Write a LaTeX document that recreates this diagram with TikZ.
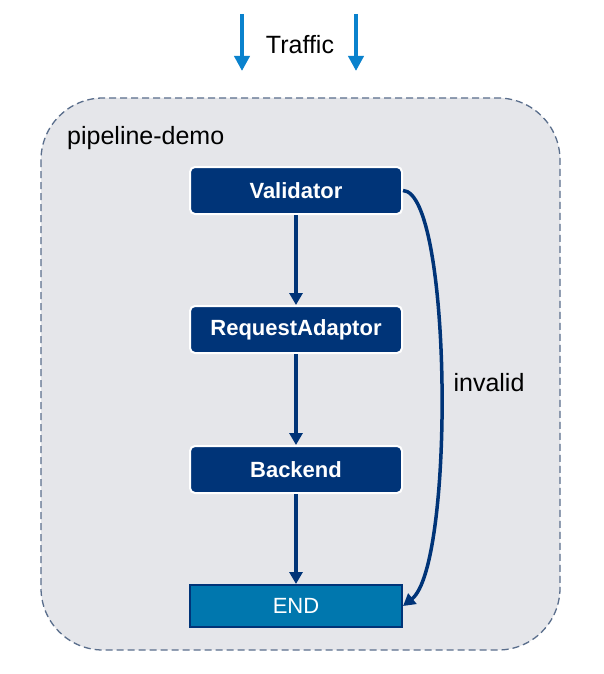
\documentclass[tikz,border=0pt]{standalone}
\usepackage{fontspec}
\setmainfont{Liberation Sans}
\usetikzlibrary{arrows.meta}
\definecolor{navy}{RGB}{0,52,120}
\definecolor{endblue}{RGB}{0,119,174}
\definecolor{traffic}{RGB}{10,130,205}
\definecolor{boxbg}{RGB}{229,230,234}
\definecolor{boxline}{RGB}{90,110,140}
\tikzset{
  stagebox/.style={draw=white, line width=2pt, fill=navy, rounded corners=5pt,
    minimum width=212pt, minimum height=47pt, inner sep=0pt,
    text=white, font=\fontsize{22}{26}\selectfont\bfseries},
  endbox/.style={draw=navy, line width=2pt, fill=endblue,
    minimum width=212pt, minimum height=42pt, inner sep=0pt,
    text=white, font=\fontsize{22}{26}\selectfont},
  flow/.style={draw=navy, line width=3.5pt, -{Triangle[width=13pt,length=12pt]}},
  trafficarrow/.style={draw=traffic, line width=4pt, -{Triangle[width=15pt,length=15pt]}},
  lbl/.style={font=\fontsize{25}{30}\selectfont, text=black, inner sep=0pt}
}
\begin{document}
\begin{tikzpicture}[x=1pt,y=-1pt]
\useasboundingbox (0,0) rectangle (604,674);
\fill[white] (0,0) rectangle (604,674);
\draw[boxline, fill=boxbg, line width=1.3pt, dash pattern=on 7pt off 4pt, rounded corners=62pt] (41,98) rectangle (560,650);
\node[lbl, anchor=west] (title) at (67,138) {pipeline-demo};
\coordinate (t1s) at (242,14);
\coordinate (t1e) at (242,71);
\coordinate (t2s) at (356,14);
\coordinate (t2e) at (356,71);
\draw[trafficarrow] (t1s) -- (t1e);
\draw[trafficarrow] (t2s) -- (t2e);
\node[lbl] (traffic) at (300,45) {Traffic};
\node[stagebox] (va) at (296,190.5) {Validator};
\node[stagebox] (ra) at (296,329.5) {RequestAdaptor};
\node[stagebox] (be) at (296,469.5) {Backend};
\node[endbox] (end) at (296,606) {END};
\draw[flow] (va.south) -- (ra.north);
\draw[flow] (ra.south) -- (be.north);
\draw[flow] (be.south) -- (end.north);
\draw[flow] (va.east) .. controls (452,192) and (455,565) .. (end.east);
\node[lbl] (inv) at (489,383) {invalid};
\end{tikzpicture}
\end{document}
